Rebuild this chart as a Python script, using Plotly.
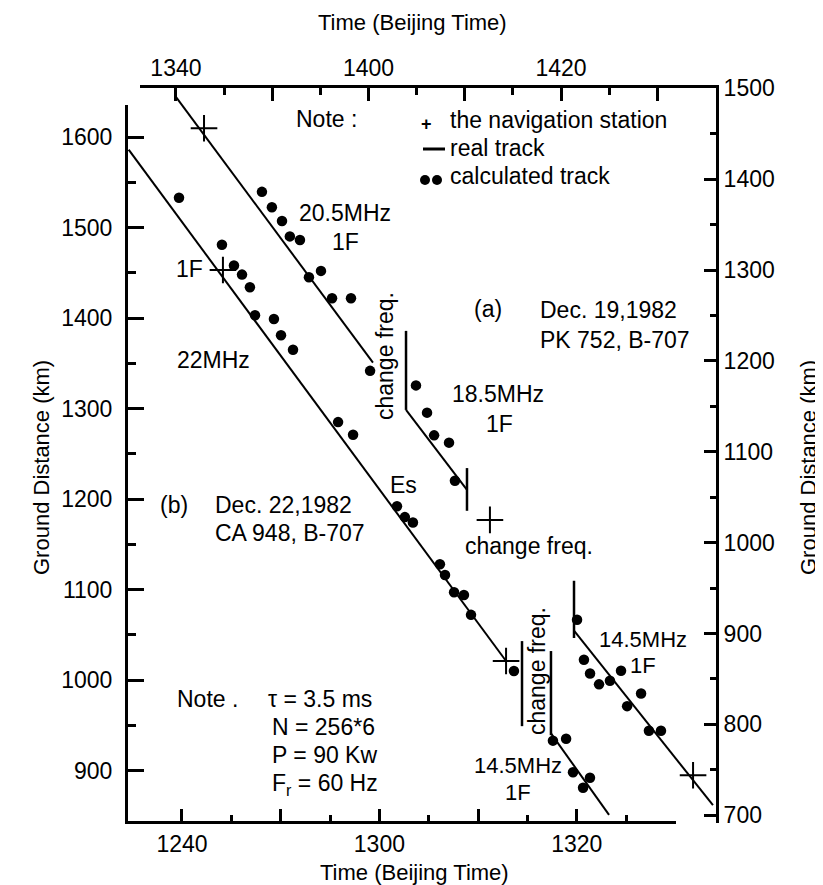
import plotly.graph_objects as go

W, H = 823, 885
DAY = "2000-01-01 "
FONT = "Liberation Sans, Arial, sans-serif"

# ---------------- (b) Dec. 22, 1982  (bottom / left axes) ----------------
b_track22_t = ["12:34:36", "13:12:50"]
b_track22_d = [1586, 1021]
b_cross_t = ["12:44:09", "13:12:50"]
b_cross_d = [1453, 1021]
b_dots22_t = ["12:39:42", "12:44:03", "12:45:16", "12:46:05", "12:46:53", "12:47:24",
              "12:49:19", "12:50:02", "12:51:15", "12:55:49", "12:57:20", "13:01:47",
              "13:02:35", "13:03:24", "13:06:08", "13:06:39", "13:07:34", "13:08:34",
              "13:09:17", "13:13:38"]
b_dots22_d = [1533, 1481, 1458, 1448, 1434, 1403, 1399, 1381, 1365, 1285, 1271, 1192,
              1180, 1174, 1128, 1116, 1097, 1094, 1072, 1010]
b_mark_t = ["13:14:27", "13:14:27"]
b_mark_d = [1043, 949]
b_bar145_t = ["13:17:23", "13:17:23"]
b_bar145_d = [1032, 939]
b_track145_t = ["13:17:23", "13:23:16"]
b_track145_d = [941, 851]
b_dots145_t = ["13:17:35", "13:18:55", "13:19:37", "13:20:38", "13:21:20"]
b_dots145_d = [933, 935, 898, 881, 892]

# ---------------- (a) Dec. 19, 1982  (top / right axes) ----------------
a_track205_t = ["13:39:54", "14:00:28"]
a_track205_d = [1492, 1198]
a_dots205_t = ["13:48:56", "13:49:58", "13:51:01", "13:51:50", "13:52:53", "13:55:04",
               "13:53:49", "13:56:13", "13:58:11", "14:00:10"]
a_dots205_d = [1386, 1369, 1354, 1337, 1333, 1299, 1292, 1269, 1269, 1189]
a_bar1_t = ["14:03:54", "14:03:54"]
a_bar1_d = [1233, 1146]
a_track185_t = ["14:03:54", "14:10:14"]
a_track185_d = [1146, 1058]
a_dots185_t = ["14:04:56", "14:06:05", "14:06:49", "14:08:22", "14:08:59"]
a_dots185_d = [1173, 1143, 1118, 1110, 1068]
a_bar2_t = ["14:10:14", "14:10:14"]
a_bar2_d = [1082, 1035]
a_bar3_t = ["14:21:21", "14:21:21"]
a_bar3_d = [958, 895]
a_track145_t = ["14:21:21", "14:35:47"]
a_track145_d = [903, 711]
a_dots145_t = ["14:21:40", "14:22:23", "14:23:01", "14:23:57", "14:25:05", "14:26:14",
               "14:26:52", "14:28:19", "14:29:08", "14:30:23"]
a_dots145_d = [915, 871, 856, 844, 848, 859, 820, 834, 793, 793]
a_cross_t = ["13:42:55", "14:12:37", "14:33:43"]
a_cross_d = [1456, 1025, 744]

# ---------------- axes ticks ----------------
bottom_tickvals = ["12:40", "13:00", "13:20"]
bottom_ticktext = ["1240", "1300", "1320"]
bottom_unlabeled = ["12:50", "13:10"]
bottom_minor = ["12:45", "12:55", "13:05", "13:15", "13:25"]
top_tickvals = ["13:40", "14:00", "14:20"]
top_ticktext = ["1340", "1400", "1420"]
top_unlabeled = ["13:50", "14:10", "14:30"]
top_minor = ["13:45", "13:55", "14:05", "14:15", "14:25"]
left_tickvals = [900, 1000, 1100, 1200, 1300, 1400, 1500, 1600]
left_minor = [950, 1050, 1150, 1250, 1350, 1450, 1550]
right_tickvals = [700, 800, 900, 1000, 1100, 1200, 1300, 1400, 1500]
right_minor = [750, 850, 950, 1050, 1150, 1250, 1350, 1450]

X_RANGE = [DAY + "12:34:32", DAY + "13:30:03"]
X2_RANGE = [DAY + "13:36:16", DAY + "14:36:06"]


def T(lst):
    return [DAY + s for s in lst]


def px(x):
    return x / W


def py(y):
    return 1 - y / H


fig = go.Figure()


def line(t, d, ax, w=2):
    xa, ya = ("x", "y") if ax == 1 else ("x2", "y2")
    fig.add_trace(go.Scatter(x=T(t), y=d, mode="lines", xaxis=xa, yaxis=ya,
                             line=dict(color="black", width=w), showlegend=False,
                             hoverinfo="skip"))


def dots(t, d, ax):
    xa, ya = ("x", "y") if ax == 1 else ("x2", "y2")
    fig.add_trace(go.Scatter(x=T(t), y=d, mode="markers", xaxis=xa, yaxis=ya,
                             marker=dict(color="black", size=10.5, symbol="circle"),
                             showlegend=False))


def crosses(t, d, ax):
    xa, ya = ("x", "y") if ax == 1 else ("x2", "y2")
    fig.add_trace(go.Scatter(x=T(t), y=d, mode="markers", xaxis=xa, yaxis=ya,
                             marker=dict(color="black", size=19, symbol="cross-thin",
                                         line=dict(color="black", width=2)),
                             showlegend=False))


# (b)
line(b_track22_t, b_track22_d, 1)
line(b_mark_t, b_mark_d, 1, 2.5)
line(b_bar145_t, b_bar145_d, 1, 2.5)
line(b_track145_t, b_track145_d, 1)
dots(b_dots22_t, b_dots22_d, 1)
dots(b_dots145_t, b_dots145_d, 1)
crosses(b_cross_t, b_cross_d, 1)
# (a)
line(a_track205_t, a_track205_d, 2)
line(a_bar1_t, a_bar1_d, 2, 2.5)
line(a_track185_t, a_track185_d, 2)
line(a_bar2_t, a_bar2_d, 2, 2.5)
line(a_bar3_t, a_bar3_d, 2, 2.5)
line(a_track145_t, a_track145_d, 2)
dots(a_dots205_t, a_dots205_d, 2)
dots(a_dots185_t, a_dots185_d, 2)
dots(a_dots145_t, a_dots145_d, 2)
crosses(a_cross_t, a_cross_d, 2)

# invisible carriers for the unlabeled long-tick axes
fig.add_trace(go.Scatter(x=T(bottom_unlabeled), y=[None] * len(bottom_unlabeled),
                         xaxis="x3", yaxis="y", mode="markers", showlegend=False,
                         hoverinfo="skip", marker=dict(opacity=0)))
fig.add_trace(go.Scatter(x=T(top_unlabeled), y=[None] * len(top_unlabeled),
                         xaxis="x4", yaxis="y2", mode="markers", showlegend=False,
                         hoverinfo="skip", marker=dict(opacity=0)))

tickfont = dict(family=FONT, size=23, color="black")
common = dict(showgrid=False, zeroline=False, showline=True, linecolor="black",
              linewidth=3, ticks="inside", tickcolor="black", tickwidth=2.5,
              tickfont=tickfont, automargin=False, fixedrange=True)

fig.update_layout(
    width=W, height=H, margin=dict(l=0, r=0, t=0, b=0),
    template="none", paper_bgcolor="white", plot_bgcolor="rgba(0,0,0,0)",
    showlegend=False,
    xaxis=dict(domain=[px(120), px(668)], anchor="y", side="bottom", type="date",
               range=X_RANGE,
               tickmode="array", tickvals=T(bottom_tickvals), ticktext=bottom_ticktext,
               ticklen=12, ticklabelstandoff=0,
               minor=dict(tickmode="array", tickvals=T(bottom_minor), ticks="inside",
                          ticklen=6, tickwidth=2.5, tickcolor="black"),
               **common),
    xaxis3=dict(overlaying="x", anchor="y", side="bottom", type="date", range=X_RANGE,
                tickmode="array", tickvals=T(bottom_unlabeled), showticklabels=False,
                ticks="inside", ticklen=12, tickwidth=2.5, tickcolor="black",
                showline=False, showgrid=False, zeroline=False, fixedrange=True),
    yaxis=dict(domain=[py(813), py(97)], anchor="x", side="left",
               range=[844.2, 1635.4], tickmode="array", tickvals=left_tickvals,
               ticktext=[str(v) for v in left_tickvals], ticklen=16,
               ticklabelstandoff=8,
               minor=dict(tickmode="array", tickvals=left_minor, ticks="inside",
                          ticklen=8, tickwidth=2.5, tickcolor="black"),
               **common),
    xaxis2=dict(domain=[px(132), px(708)], anchor="y2", side="top", type="date",
                range=X2_RANGE,
                tickmode="array", tickvals=T(top_tickvals), ticktext=top_ticktext,
                ticklen=13, ticklabelstandoff=0,
                minor=dict(tickmode="array", tickvals=T(top_minor), ticks="inside",
                           ticklen=7, tickwidth=2.5, tickcolor="black"),
                **common),
    xaxis4=dict(overlaying="x2", anchor="y2", side="top", type="date", range=X2_RANGE,
                tickmode="array", tickvals=T(top_unlabeled), showticklabels=False,
                ticks="inside", ticklen=13, tickwidth=2.5, tickcolor="black",
                showline=False, showgrid=False, zeroline=False, fixedrange=True),
    yaxis2=dict(domain=[py(815), py(80)], anchor="x2", side="right",
                range=[691.4, 1500.3], tickmode="array", tickvals=right_tickvals,
                ticktext=[str(v) for v in right_tickvals], ticklen=12,
                ticklabelstandoff=0,
                minor=dict(tickmode="array", tickvals=right_minor, ticks="inside",
                           ticklen=6, tickwidth=2.5, tickcolor="black"),
                **common),
)

ann = []


def label(text, x, y, xa="center", ya="middle", angle=0, size=23):
    ann.append(dict(text=text, x=px(x), y=py(y), xref="paper", yref="paper",
                    xanchor=xa, yanchor=ya, textangle=angle, showarrow=False,
                    font=dict(family=FONT, size=size, color="black")))


# axis titles
label("Time (Beijing Time)", 404, 15, size=22)
label("Time (Beijing Time)", 406, 864, size=22)
label("Ground Distance (km)", 33, 460, angle=-90, size=22)
label("Ground Distance (km)", 800, 460, angle=-90, size=22)

# legend note
label("Note :", 318, 111)
label("<b>+</b>", 418, 116, size=18)
label("the navigation station", 440, 112, xa="left")
label("real track", 440, 140, xa="left")
label("calculated track", 440, 168, xa="left")

# (a) labels
label("20.5MHz", 337, 205)
label("1F", 337, 234)
label("change freq.", 377, 348, angle=-90)
label("(a)", 480, 301)
label("Dec. 19,1982", 530, 302, xa="left")
label("PK 752, B-707", 530, 332, xa="left")
label("18.5MHz", 490, 386)
label("1F", 491, 416)
label("change freq.", 521, 538)
label("14.5MHz", 635, 631, size=22)
label("1F", 635, 657, size=22)

# (b) labels
label("1F", 197, 261, xa="right")
label("22MHz", 205, 352)
label("Es", 395, 477)
label("(b)", 166, 497)
label("Dec. 22,1982", 205, 497, xa="left")
label("CA 948, B-707", 205, 525, xa="left")
label("change freq.", 529, 663, angle=-90)
label("14.5MHz", 510, 757, size=22)
label("1F", 510, 784, size=22)
label("Note .", 199, 691)
label("\u03c4 = 3.5 ms", 258, 691, xa="left")
label("N = 256*6", 262, 719, xa="left")
label("P = 90 Kw", 262, 747, xa="left")
label("F<sub>r</sub> = 60 Hz", 262, 776, xa="left")

fig.update_layout(annotations=ann)

shapes = [
    dict(type="line", xref="paper", yref="paper", x0=px(415), x1=px(437),
         y0=py(141), y1=py(141), line=dict(color="black", width=3)),
    dict(type="circle", xref="paper", yref="paper", x0=px(412), x1=px(422),
         y0=py(177), y1=py(167), fillcolor="black", line=dict(color="black", width=0)),
    dict(type="circle", xref="paper", yref="paper", x0=px(424), x1=px(434),
         y0=py(177), y1=py(167), fillcolor="black", line=dict(color="black", width=0)),
]
fig.update_layout(shapes=shapes)

fig.write_html("out.html")
